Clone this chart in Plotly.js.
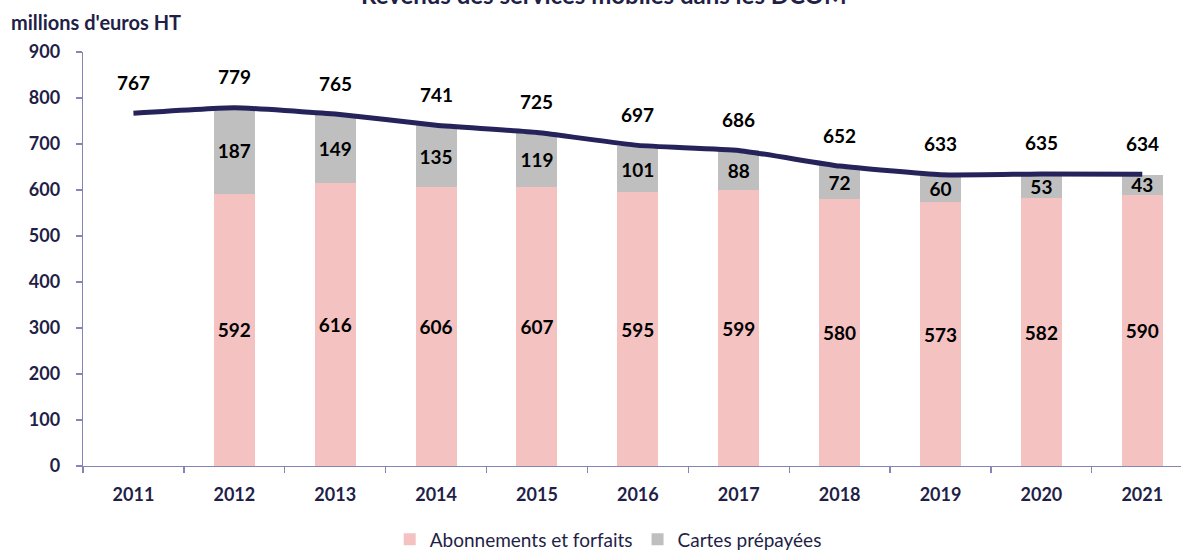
<!DOCTYPE html>
<html>
<head>
<meta charset="utf-8">
<script src="https://cdn.plot.ly/plotly-3.0.1.min.js"></script>
<style>html,body{margin:0;padding:0;background:#fff;}#chart{width:1181px;height:550px;}</style>
</head>
<body>
<div id="chart"></div>
<script>
const years = ['2011','2012','2013','2014','2015','2016','2017','2018','2019','2020','2021'];
const abonnements = [null, 592, 616, 606, 607, 595, 599, 580, 573, 582, 590];
const cartes = [null, 187, 149, 135, 119, 101, 88, 72, 60, 53, 43];
const totals = [767, 779, 765, 741, 725, 697, 686, 652, 633, 635, 634];
const yTicks = [0, 100, 200, 300, 400, 500, 600, 700, 800, 900];

const navy = '#1f1f47';
const axisCol = '#8585b5';
const labelFont = {family: 'Lato, sans-serif', size: 19, color: '#000000', weight: 'bold'};

const traces = [
  {
    type: 'bar', name: 'Abonnements et forfaits', x: years, y: abonnements,
    marker: {color: '#f5c2c2'}, width: 0.406,
    text: abonnements.map(v => v == null ? '' : String(v)),
    textposition: 'inside', insidetextanchor: 'middle', textangle: 0, constraintext: 'none',
    textfont: labelFont, hoverinfo: 'skip', cliponaxis: false
  },
  {
    type: 'bar', name: 'Cartes prépayées', x: years, y: cartes,
    marker: {color: '#bfbfbf'}, width: 0.406,
    text: cartes.map(v => v == null ? '' : String(v)),
    textposition: 'inside', insidetextanchor: 'middle', textangle: 0, constraintext: 'none',
    textfont: labelFont, hoverinfo: 'skip', cliponaxis: false
  },
  {
    type: 'scatter', mode: 'lines', x: years, y: totals, showlegend: false,
    line: {color: '#25235a', width: 5, shape: 'spline', smoothing: 0.4},
    hoverinfo: 'skip', cliponaxis: false
  }
];

const annotations = years.map((yr, i) => ({
  x: i, y: totals[i], xref: 'x', yref: 'y', text: String(totals[i]),
  showarrow: false, xanchor: 'center', yanchor: 'middle', yshift: 31,
  font: labelFont
}));
annotations.push({
  xref: 'paper', yref: 'paper', x: 0, y: 1, xanchor: 'left', yanchor: 'bottom',
  xshift: -74, yshift: 16, text: "millions d'euros HT", showarrow: false,
  font: {family: 'Lato, sans-serif', size: 20, color: navy, weight: 'bold'}
});
annotations.push({
  xref: 'paper', yref: 'paper', x: 0.4746, y: 1, xanchor: 'center', yanchor: 'bottom',
  yshift: 41, text: 'Revenus des services mobiles dans les DCOM', showarrow: false,
  font: {family: 'Lato, sans-serif', size: 24, color: navy, weight: 'bold'}
});

const layout = {
  width: 1181, height: 550,
  margin: {l: 82.8, r: 0, t: 52, b: 83.5, autoexpand: false},
  paper_bgcolor: '#ffffff', plot_bgcolor: '#ffffff',
  barmode: 'stack',
  showlegend: true,
  legend: {
    orientation: 'h', xref: 'container', x: 0.515, xanchor: 'center',
    yref: 'paper', y: -0.177, yanchor: 'middle',
    font: {family: 'Lato, sans-serif', size: 19, color: navy},
    itemwidth: 30, traceorder: 'normal'
  },
  xaxis: {
    type: 'category', range: [-0.5, 10.384],
    tickmode: 'array', tickvals: years, ticktext: years,
    tickson: 'boundaries', ticks: 'outside', ticklen: 6, tickcolor: axisCol, tickwidth: 1.3,
    showline: true, linecolor: axisCol, linewidth: 1.3, showgrid: false, zeroline: false,
    ticklabelstandoff: 12,
    tickfont: {family: 'Lato, sans-serif', size: 18, color: navy, weight: 'bold'}
  },
  yaxis: {
    range: [0, 900], tickmode: 'array', tickvals: yTicks, ticktext: yTicks.map(String),
    ticks: 'outside', ticklen: 6, tickcolor: axisCol, tickwidth: 1.3,
    showline: true, linecolor: axisCol, linewidth: 1.3, showgrid: false, zeroline: false,
    ticklabelstandoff: 12,
    tickfont: {family: 'Lato, sans-serif', size: 18, color: navy, weight: 'bold'}
  },
  annotations: annotations
};

Plotly.newPlot('chart', traces, layout, {displayModeBar: false, staticPlot: true});
</script>
</body>
</html>
